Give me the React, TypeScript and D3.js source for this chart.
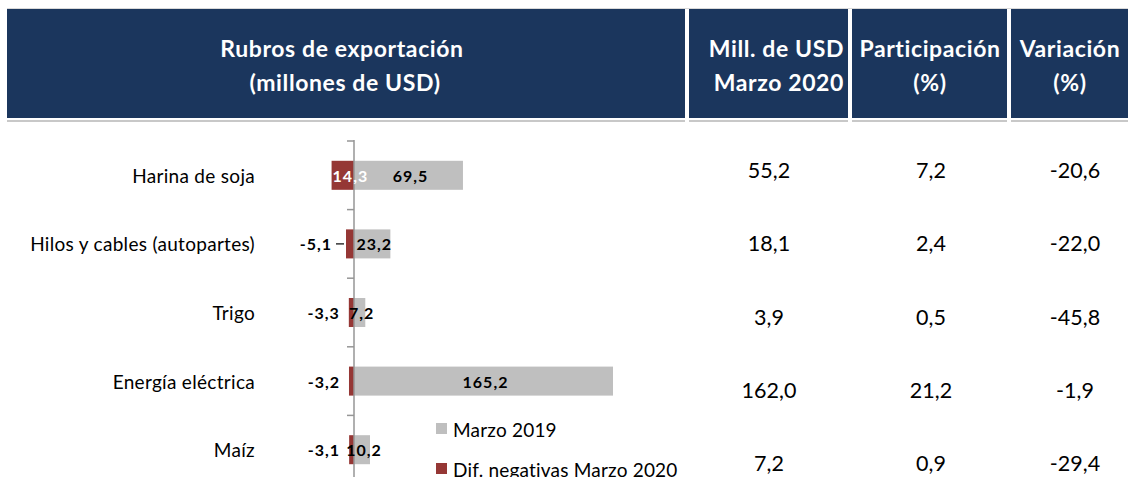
import React from "react";
import * as d3 from "d3";

const categories = ["Harina de soja", "Hilos y cables (autopartes)", "Trigo", "Energía eléctrica", "Maíz"];
const marzo2019 = [69.5, 23.2, 7.2, 165.2, 10.2];
const difNegativas = [-14.3, -5.1, -3.3, -3.2, -3.1];
const marzo2019Labels = ["69,5", "23,2", "7,2", "165,2", "10,2"];
const difLabels = ["14,3", "-5,1", "-3,3", "-3,2", "-3,1"];
const millUSD = ["55,2", "18,1", "3,9", "162,0", "7,2"];
const participacion = ["7,2", "2,4", "0,5", "21,2", "0,9"];
const variacion = ["-20,6", "-22,0", "-45,8", "-1,9", "-29,4"];
const legendItems = ["Marzo 2019", "Dif. negativas Marzo 2020"];

const W = 1128;
const H = 477;
const NAVY = "#1b365d";
const GRAY = "#bfbfbf";
const RED = "#953735";
const FONT = "Lato, 'Open Sans', sans-serif";

export default function App() {
  const x = d3.scaleLinear().domain([0, d3.max(marzo2019) as number]).range([354, 613]);
  const pad = 0.577;
  const y = d3.scaleBand<string>().domain(categories).range([141, 484]).paddingInner(pad).paddingOuter(pad / 2);
  const step = y.step();
  const bh = y.bandwidth();
  const rowY = d3.scalePoint<string>().domain(categories).range([170, 463]);

  const colCenters = [769, 931, 1075];
  const headerCells = [
    { x0: 7, x1: 685 },
    { x0: 689, x1: 848 },
    { x0: 852, x1: 1007 },
    { x0: 1011, x1: 1128 },
  ];

  return (
    <svg width={W} height={H} style={{ position: "absolute", left: 0, top: 0, background: "#fff" }} fontFamily={FONT}>
      {/* header */}
      <line x1={7} x2={W} y1={8.5} y2={8.5} stroke="#d9d9d9" strokeWidth={1} />
      {headerCells.map((c, i) => (
        <g key={i}>
          <rect x={c.x0} y={9} width={c.x1 - c.x0} height={109} fill={NAVY} />
          <rect x={c.x0} y={120} width={c.x1 - c.x0} height={2} fill="#c8c8c8" />
        </g>
      ))}
      <g fill="#fff" fontWeight={700} fontSize={23} letterSpacing={0.6}>
        <text x={342} y={48} textAnchor="middle" dominantBaseline="central">Rubros de exportación</text>
        <text x={345} y={82} textAnchor="middle" dominantBaseline="central">(millones de USD)</text>
        <text x={844} y={48} textAnchor="end" dominantBaseline="central">Mill. de USD</text>
        <text x={844} y={82} textAnchor="end" dominantBaseline="central">Marzo 2020</text>
        <text x={930} y={48} textAnchor="middle" dominantBaseline="central">Participación</text>
        <text x={930} y={82} textAnchor="middle" dominantBaseline="central">(%)</text>
        <text x={1070} y={48} textAnchor="middle" dominantBaseline="central">Variación</text>
        <text x={1070} y={82} textAnchor="middle" dominantBaseline="central">(%)</text>
      </g>

      {/* category labels */}
      {categories.map((c) => (
        <text key={c} x={255} y={(y(c) as number) + bh / 2} textAnchor="end" dominantBaseline="central" fontSize={19} letterSpacing={0.3} fill="#000">
          {c}
        </text>
      ))}

      {/* bars */}
      {categories.map((c, i) => {
        const yy = y(c) as number;
        return (
          <g key={c}>
            <rect x={x(0)} y={yy} width={x(marzo2019[i]) - x(0)} height={bh} fill={GRAY} />
            <rect x={x(difNegativas[i])} y={yy} width={x(0) - x(difNegativas[i])} height={bh} fill={RED} />
          </g>
        );
      })}

      {/* axis */}
      <g stroke="#969696" strokeWidth={1.5}>
        <line x1={x(0)} x2={x(0)} y1={140} y2={H} />
        {d3.range(categories.length + 1).map((k) => (
          <line key={k} x1={x(0) - 7} x2={x(0)} y1={141 + k * step} y2={141 + k * step} />
        ))}
      </g>

      {/* bar labels */}
      <g fontWeight={700} fontSize={16} letterSpacing={1}>
        {categories.map((c, i) => {
          const cy = (y(c) as number) + bh / 2;
          const v = difNegativas[i];
          const w = x(0) - x(v);
          const inside = w > 15;
          const leader = !inside && w > 7;
          return (
            <g key={c}>
              <text x={(x(0) + x(marzo2019[i])) / 2 + 2} y={cy} textAnchor="middle" dominantBaseline="central" fill="#000">
                {marzo2019Labels[i]}
              </text>
              {inside ? (
                <text x={x(v) + 1} y={cy} textAnchor="start" dominantBaseline="central" fill="#fff">
                  {difLabels[i]}
                </text>
              ) : (
                <text x={x(v) - (leader ? 14 : 9)} y={cy} textAnchor="end" dominantBaseline="central" fill="#000">
                  {difLabels[i]}
                </text>
              )}
              {leader && <line x1={x(v) - 10} x2={x(v) - 2} y1={cy} y2={cy} stroke="#000" strokeWidth={1.2} />}
            </g>
          );
        })}
      </g>

      {/* legend */}
      {legendItems.map((l, i) => (
        <g key={l}>
          <rect x={436} y={423 + i * 40} width={11} height={11} fill={i === 0 ? GRAY : RED} />
          <text x={453} y={429 + i * 40} dominantBaseline="central" fontSize={19} letterSpacing={0.2} fill="#000">{l}</text>
        </g>
      ))}

      {/* table values */}
      <g fontSize={21.5} fill="#000">
        {categories.map((c, i) => {
          const ry = rowY(c) as number;
          return (
            <g key={c}>
              <text x={colCenters[0]} y={ry} textAnchor="middle" dominantBaseline="central">{millUSD[i]}</text>
              <text x={colCenters[1]} y={ry} textAnchor="middle" dominantBaseline="central">{participacion[i]}</text>
              <text x={colCenters[2]} y={ry} textAnchor="middle" dominantBaseline="central">{variacion[i]}</text>
            </g>
          );
        })}
      </g>
    </svg>
  );
}
